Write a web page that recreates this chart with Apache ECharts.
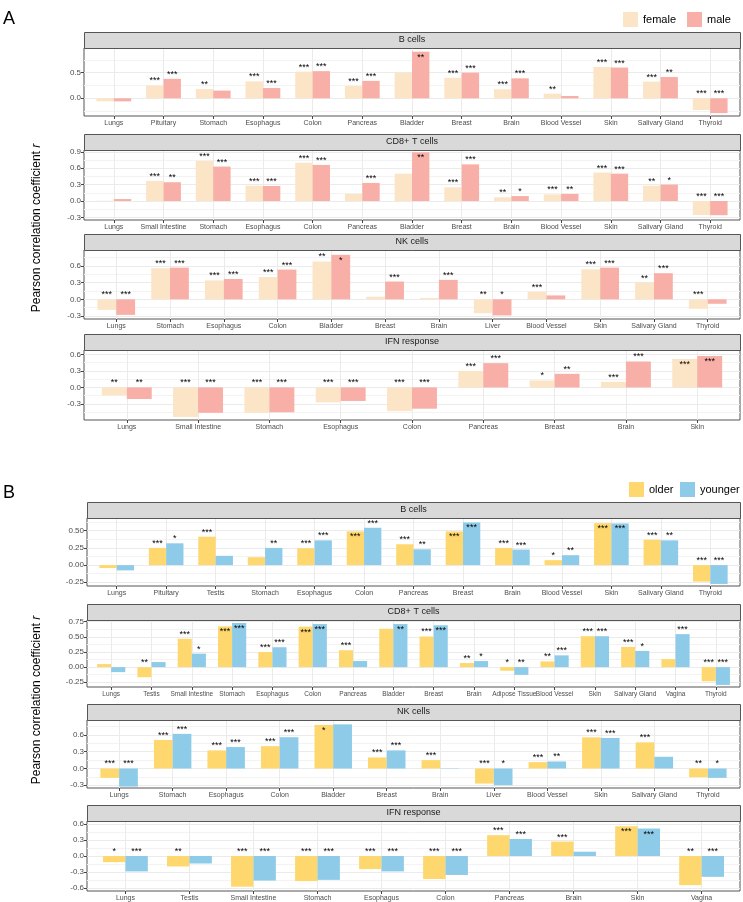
<!DOCTYPE html>
<html><head><meta charset="utf-8">
<script src="https://cdn.jsdelivr.net/npm/echarts@6/dist/echarts.min.js"></script>
<style>html,body{margin:0;padding:0;background:#fff}#c{width:743px;height:902px}</style>
</head><body><div id="c"></div>
<script>
// ================= DATA =================
const groupNamesA = ['female', 'male'];
const groupNamesB = ['older', 'younger'];
const panelTitles = ['B cells', 'CD8+ T cells', 'NK cells', 'IFN response', 'B cells', 'CD8+ T cells', 'NK cells', 'IFN response'];

// --- A: B cells ---
const catsA1 = ['Lungs','Pituitary','Stomach','Esophagus','Colon','Pancreas','Bladder','Breast','Brain','Blood Vessel','Skin','Salivary Gland','Thyroid'];
const femaleA1 = [-0.06, 0.25, 0.18, 0.33, 0.52, 0.24, 0.50, 0.40, 0.175, 0.09, 0.61, 0.325, -0.23];
const maleA1   = [-0.06, 0.38, 0.15, 0.20, 0.53, 0.34, 0.91, 0.50, 0.39, 0.045, 0.60, 0.415, -0.29];
const starsFemaleA1 = ['', '***', '**', '***', '***', '***', '', '***', '***', '**', '***', '***', '***'];
const starsMaleA1   = ['', '***', '', '***', '***', '***', '**', '***', '***', '', '***', '**', '***'];
const ticksA1 = [0, 0.5];

// --- A: CD8+ T cells ---
const catsA2 = ['Lungs','Small Intestine','Stomach','Esophagus','Colon','Pancreas','Bladder','Breast','Brain','Blood Vessel','Skin','Salivary Gland','Thyroid'];
const femaleA2 = [0.005, 0.367, 0.735, 0.28, 0.70, 0.13, 0.50, 0.25, 0.067, 0.12, 0.52, 0.28, -0.257];
const maleA2   = [0.035, 0.343, 0.63, 0.275, 0.66, 0.33, 0.89, 0.67, 0.09, 0.13, 0.50, 0.30, -0.26];
const starsFemaleA2 = ['', '***', '***', '***', '***', '', '', '***', '**', '***', '***', '**', '***'];
const starsMaleA2   = ['', '**', '***', '***', '***', '***', '**', '***', '*', '**', '***', '*', '***'];
const ticksA2 = [-0.3, 0, 0.3, 0.6, 0.9];

// --- A: NK cells ---
const catsA3 = ['Lungs','Stomach','Esophagus','Colon','Bladder','Breast','Brain','Liver','Blood Vessel','Skin','Salivary Gland','Thyroid'];
const femaleA3 = [-0.19, 0.56, 0.34, 0.40, 0.68, 0.047, 0.024, -0.25, 0.135, 0.54, 0.30, -0.17];
const maleA3   = [-0.28, 0.57, 0.365, 0.535, 0.80, 0.32, 0.35, -0.29, 0.07, 0.57, 0.47, -0.08];
const starsFemaleA3 = ['***', '***', '***', '***', '**', '', '', '**', '***', '***', '**', '***'];
const starsMaleA3   = ['***', '***', '***', '***', '*', '***', '***', '*', '', '***', '***', ''];
const ticksA3 = [-0.3, 0, 0.3, 0.6];

// --- A: IFN response ---
const catsA4 = ['Lungs','Small Intestine','Stomach','Esophagus','Colon','Pancreas','Breast','Brain','Skin'];
const femaleA4 = [-0.145, -0.535, -0.46, -0.27, -0.43, 0.30, 0.126, 0.10, 0.515];
const maleA4   = [-0.21, -0.46, -0.45, -0.245, -0.385, 0.44, 0.246, 0.47, 0.57];
const starsFemaleA4 = ['**', '***', '***', '***', '***', '***', '*', '***', '***'];
const starsMaleA4   = ['**', '***', '***', '***', '***', '***', '**', '***', '***'];
const ticksA4 = [-0.3, 0, 0.3, 0.6];

// --- B: B cells ---
const catsB1 = ['Lungs','Pituitary','Testis','Stomach','Esophagus','Colon','Pancreas','Breast','Brain','Blood Vessel','Skin','Salivary Gland','Thyroid'];
const olderB1   = [-0.043, 0.25, 0.413, 0.115, 0.245, 0.49, 0.303, 0.49, 0.25, 0.072, 0.61, 0.37, -0.24];
const youngerB1 = [-0.077, 0.317, 0.135, 0.25, 0.36, 0.543, 0.23, 0.62, 0.226, 0.144, 0.606, 0.36, -0.274];
const starsOlderB1   = ['', '***', '***', '', '***', '***', '***', '***', '***', '*', '***', '***', '***'];
const starsYoungerB1 = ['', '*', '', '**', '***', '***', '**', '***', '***', '**', '***', '**', '***'];
const ticksB1 = [-0.25, 0, 0.25, 0.5];

// --- B: CD8+ T cells ---
const catsB2 = ['Lungs','Testis','Small Intestine','Stomach','Esophagus','Colon','Pancreas','Bladder','Breast','Brain','Adipose Tissue','Blood Vessel','Skin','Salivary Gland','Vagina','Thyroid'];
const olderB2   = [0.05, -0.167, 0.467, 0.672, 0.25, 0.667, 0.278, 0.633, 0.505, 0.067, -0.06, 0.094, 0.51, 0.333, 0.133, -0.233];
const youngerB2 = [-0.083, 0.083, 0.222, 0.728, 0.328, 0.71, 0.10, 0.71, 0.69, 0.10, -0.128, 0.194, 0.51, 0.267, 0.544, -0.294];
const starsOlderB2   = ['', '**', '***', '***', '***', '***', '***', '', '***', '**', '*', '**', '***', '***', '', '***'];
const starsYoungerB2 = ['', '', '*', '***', '***', '***', '', '**', '***', '*', '**', '***', '***', '*', '***', '***'];
const ticksB2 = [-0.25, 0, 0.25, 0.5, 0.75];

// --- B: NK cells ---
const catsB3 = ['Lungs','Stomach','Esophagus','Colon','Bladder','Breast','Brain','Liver','Blood Vessel','Skin','Salivary Gland','Thyroid'];
const olderB3   = [-0.168, 0.51, 0.324, 0.40, 0.78, 0.198, 0.15, -0.27, 0.114, 0.558, 0.468, -0.156];
const youngerB3 = [-0.324, 0.62, 0.384, 0.56, 0.79, 0.324, -0.006, -0.30, 0.126, 0.546, 0.21, -0.168];
const starsOlderB3   = ['***', '***', '***', '***', '*', '***', '***', '***', '***', '***', '***', '**'];
const starsYoungerB3 = ['***', '***', '***', '***', '', '***', '', '*', '**', '***', '', '*'];
const ticksB3 = [-0.3, 0, 0.3, 0.6];

// --- B: IFN response ---
const catsB4 = ['Lungs','Testis','Small Intestine','Stomach','Esophagus','Colon','Pancreas','Brain','Skin','Vagina'];
const olderB4   = [-0.116, -0.196, -0.575, -0.47, -0.245, -0.43, 0.39, 0.27, 0.557, -0.545];
const youngerB4 = [-0.288, -0.14, -0.46, -0.447, -0.288, -0.355, 0.318, 0.08, 0.514, -0.39];
const starsOlderB4   = ['*', '**', '***', '***', '***', '***', '***', '***', '***', '**'];
const starsYoungerB4 = ['***', '', '***', '***', '***', '***', '***', '', '***', '***'];
const ticksB4 = [-0.6, -0.3, 0, 0.3, 0.6];

// significance marks that sit inside the top of their bar: [panel, group, category]
const starsInside = [
  [0, 'male', 'Bladder'], [1, 'male', 'Bladder'], [2, 'male', 'Bladder'],
  [3, 'female', 'Skin'], [3, 'male', 'Skin'],
  [4, 'older', 'Colon'], [4, 'older', 'Breast'], [4, 'younger', 'Breast'], [4, 'older', 'Skin'], [4, 'younger', 'Skin'],
  [5, 'older', 'Stomach'], [5, 'younger', 'Stomach'], [5, 'older', 'Colon'], [5, 'younger', 'Colon'], [5, 'younger', 'Bladder'], [5, 'younger', 'Breast'],
  [6, 'older', 'Bladder'],
  [7, 'older', 'Skin'], [7, 'younger', 'Skin']
];

// ================= STYLE / LAYOUT =================
const colorsA = ['#FCE4C6', '#F8AFA7'];
const colorsB = ['#FED86F', '#8ECBE8'];
const FONT = "'Liberation Sans', Arial, Helvetica, sans-serif";

const panels = [
  {cats: catsA1, v: [femaleA1, maleA1], s: [starsFemaleA1, starsMaleA1], ticks: ticksA1, minor: [-0.25, 0.25, 0.75], dec: 1, names: groupNamesA, colors: colorsA, top: 48, bottom: 116, left: 84, min: -0.346, max: 0.982, catFont: 7},
  {cats: catsA2, v: [femaleA2, maleA2], s: [starsFemaleA2, starsMaleA2], ticks: ticksA2, minor: [-0.15, 0.15, 0.45, 0.75], dec: 1, names: groupNamesA, colors: colorsA, top: 150, bottom: 220, left: 84, min: -0.348, max: 0.933, catFont: 7},
  {cats: catsA3, v: [femaleA3, maleA3], s: [starsFemaleA3, starsMaleA3], ticks: ticksA3, minor: [-0.15, 0.15, 0.45, 0.75], dec: 1, names: groupNamesA, colors: colorsA, top: 250, bottom: 319, left: 84, min: -0.354, max: 0.887, catFont: 7},
  {cats: catsA4, v: [femaleA4, maleA4], s: [starsFemaleA4, starsMaleA4], ticks: ticksA4, minor: [-0.45, -0.15, 0.15, 0.45], dec: 1, names: groupNamesA, colors: colorsA, top: 350, bottom: 420, left: 84, min: -0.59, max: 0.678, catFont: 7},
  {cats: catsB1, v: [olderB1, youngerB1], s: [starsOlderB1, starsYoungerB1], ticks: ticksB1, minor: [-0.125, 0.125, 0.375, 0.625], dec: 2, names: groupNamesB, colors: colorsB, top: 518, bottom: 586, left: 87, min: -0.304, max: 0.685, catFont: 7},
  {cats: catsB2, v: [olderB2, youngerB2], s: [starsOlderB2, starsYoungerB2], ticks: ticksB2, minor: [-0.125, 0.125, 0.375, 0.625], dec: 2, names: groupNamesB, colors: colorsB, top: 620, bottom: 687, left: 87, min: -0.328, max: 0.777, catFont: 6.5},
  {cats: catsB3, v: [olderB3, youngerB3], s: [starsOlderB3, starsYoungerB3], ticks: ticksB3, minor: [-0.15, 0.15, 0.45, 0.75], dec: 1, names: groupNamesB, colors: colorsB, top: 720, bottom: 788, left: 87, min: -0.349, max: 0.868, catFont: 7},
  {cats: catsB4, v: [olderB4, youngerB4], s: [starsOlderB4, starsYoungerB4], ticks: ticksB4, minor: [-0.45, -0.15, 0.15, 0.45], dec: 1, names: groupNamesB, colors: colorsB, top: 821, bottom: 892, left: 87, min: -0.655, max: 0.655, catFont: 7}
];
const RIGHT = 740;

function isInside(pi, name, cat) {
  return starsInside.some(e => e[0] === pi && e[1] === name && e[2] === cat);
}

const grid = [], xAxis = [], yAxis = [], series = [], graphic = [];
panels.forEach((p, i) => {
  const n = p.cats.length;
  const idx = p.cats.map((c, k) => k);
  grid.push({left: p.left, right: 743 - RIGHT, top: p.top, height: p.bottom - p.top,
    show: true, backgroundColor: '#fff', borderColor: '#555', borderWidth: 1, containLabel: false});
  xAxis.push({type: 'value', gridIndex: i, min: -0.6, max: n - 0.4, position: 'bottom',
    axisLine: {show: false, onZero: false},
    axisTick: {show: true, customValues: idx, length: 3, lineStyle: {color: '#444', width: 1}},
    axisLabel: {customValues: idx, formatter: v => p.cats[Math.round(v)], fontSize: p.catFont, color: '#4D4D4D', margin: 4, fontFamily: FONT, hideOverlap: false},
    splitLine: {show: true, lineStyle: {color: '#EBEBEB', width: 1}}});
  yAxis.push({type: 'value', gridIndex: i, min: p.min, max: p.max, position: 'left',
    axisLine: {show: false, onZero: false},
    axisTick: {show: true, customValues: p.ticks, length: 3, lineStyle: {color: '#444', width: 1}},
    axisLabel: {customValues: p.ticks, formatter: v => v.toFixed(p.dec), fontSize: 8, color: '#4D4D4D', margin: 3, fontFamily: FONT},
    splitLine: {show: true, lineStyle: {color: '#EBEBEB', width: 1}}});
  yAxis.push({type: 'value', gridIndex: i, min: p.min, max: p.max, position: 'left',
    axisLine: {show: false, onZero: false},
    axisTick: {show: false, customValues: p.minor},
    axisLabel: {show: false, customValues: p.minor},
    splitLine: {show: true, lineStyle: {color: '#F3F3F3', width: 1}}});
  [0, 1].forEach(g => {
    const name = p.names[g];
    series.push({type: 'bar', name: name, xAxisIndex: i, yAxisIndex: 2 * i,
      barGap: '0%', barCategoryGap: '30%', silent: true,
      itemStyle: {color: p.colors[g]},
      label: {fontSize: 9, color: '#000', fontFamily: FONT},
      data: p.v[g].map((val, k) => {
        const st = p.s[g][k];
        const inside = isInside(i, name, p.cats[k]);
        return {value: [k, val], label: {show: st !== '', formatter: st || ' ', position: inside ? 'insideTop' : 'top', distance: inside ? 1 : 0}};
      })});
  });
  // facet strip
  graphic.push({type: 'rect', silent: true, z: 10,
    shape: {x: p.left + 0.5, y: p.top - 16 + 0.5, width: RIGHT - p.left, height: 16},
    style: {fill: '#D9D9D9', stroke: '#555', lineWidth: 1}});
  graphic.push({type: 'text', silent: true, z: 11,
    x: (p.left + RIGHT) / 2, y: p.top - 8,
    style: {text: panelTitles[i], fill: '#1A1A1A', font: '9px ' + FONT, align: 'center', verticalAlign: 'middle'}});
});

// axis titles and panel letters
[[37, 228], [37, 700]].forEach(pos => {
  graphic.push({type: 'text', silent: true, x: pos[0], y: pos[1], rotation: Math.PI / 2,
    style: {text: 'Pearson correlation coefficient {i|r}', fill: '#000', font: '12px ' + FONT,
      align: 'center', verticalAlign: 'middle',
      rich: {i: {fontStyle: 'italic', fontSize: 12, fontFamily: FONT}}}});
});
graphic.push({type: 'text', silent: true, x: 3, y: 19, style: {text: 'A', fill: '#000', font: '18px ' + FONT, verticalAlign: 'middle'}});
graphic.push({type: 'text', silent: true, x: 3, y: 493, style: {text: 'B', fill: '#000', font: '18px ' + FONT, verticalAlign: 'middle'}});

const legendCommon = {orient: 'horizontal', itemWidth: 15, itemHeight: 15, icon: 'rect', selectedMode: false, padding: 0,
  textStyle: {fontSize: 11, color: '#000', fontFamily: FONT}};
const legend = [
  Object.assign({left: 623, top: 12, data: ['female']}, legendCommon),
  Object.assign({left: 687, top: 12, data: ['male']}, legendCommon),
  Object.assign({left: 629, top: 482, data: ['older']}, legendCommon),
  Object.assign({left: 680, top: 482, data: ['younger']}, legendCommon)
];

const chart = echarts.init(document.getElementById('c'), null, {renderer: 'canvas'});
chart.setOption({animation: false, backgroundColor: '#fff', grid, xAxis, yAxis, series, graphic, legend});
</script></body></html>
